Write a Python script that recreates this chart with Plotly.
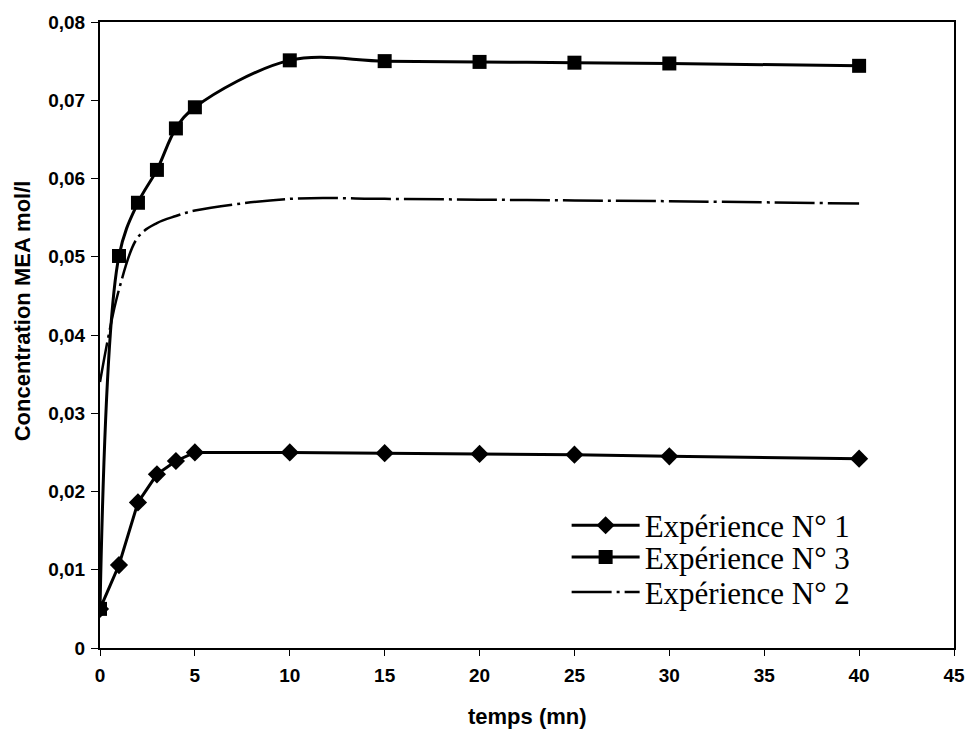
import plotly.graph_objects as go

# ---- data ----
t_main = [0, 1, 2, 3, 4, 5, 10, 15, 20, 25, 30, 40]
exp1 = [0.0050, 0.0106, 0.0186, 0.0222, 0.0239, 0.0250, 0.0250, 0.0249, 0.0248, 0.0247, 0.0245, 0.0242]
exp3 = [0.0050, 0.0501, 0.0569, 0.0611, 0.0664, 0.0691, 0.0751, 0.0750, 0.0749, 0.0748, 0.0747, 0.0744]
t_exp2 = [0, 1, 2, 3, 4, 5, 10, 15, 20, 25, 30, 40]
exp2 = [0.0340, 0.0458, 0.0525, 0.0543, 0.0552, 0.0559, 0.0574, 0.0574, 0.0573, 0.0572, 0.0571, 0.0568]

x_ticks = [0, 5, 10, 15, 20, 25, 30, 35, 40, 45]
y_ticks = [0, 0.01, 0.02, 0.03, 0.04, 0.05, 0.06, 0.07, 0.08]
y_ticklabels = ["0", "0,01", "0,02", "0,03", "0,04", "0,05", "0,06", "0,07", "0,08"]

fig = go.Figure()
fig.add_trace(go.Scatter(
    x=t_main, y=exp1, name="Expérience N° 1", mode="lines+markers", legend="legend",
    line=dict(color="black", width=3),
    marker=dict(symbol="diamond", size=14, color="black"),
))
fig.add_trace(go.Scatter(
    x=t_main, y=exp3, name="Expérience N° 3", mode="lines+markers", legend="legend2",
    line=dict(color="black", width=3, shape="spline", smoothing=1),
    marker=dict(symbol="square", size=14, color="black"),
))
fig.add_trace(go.Scatter(
    x=t_exp2, y=exp2, name="Expérience N° 2", mode="lines", legend="legend3",
    line=dict(color="black", width=2.5, shape="spline", smoothing=1,
              dash="40px,5px,3px,5px"),
))

tick_font = dict(family="Liberation Sans", size=19, color="black", weight="bold")
title_font = dict(family="Liberation Sans", size=22, color="black")
leg_font = dict(family="Liberation Serif", size=31, color="black")

def leg(yc):
    return dict(x=0.5464, y=yc, xanchor="left", yanchor="middle",
                font=leg_font, itemwidth=68, bgcolor="rgba(0,0,0,0)")

fig.update_layout(
    width=977, height=729,
    margin=dict(l=100, r=15, t=19, b=81),
    paper_bgcolor="white", plot_bgcolor="white",
    showlegend=True,
    legend=leg(0.1955),
    legend2=leg(0.1447),
    legend3=leg(0.0890),
    xaxis=dict(
        range=[0, 45], tickvals=x_ticks, showgrid=False, zeroline=False,
        showline=True, linecolor="black", linewidth=2, mirror=True,
        ticks="outside", ticklen=6, tickcolor="black", ticklabelstandoff=3,
        tickfont=tick_font,
    ),
    yaxis=dict(
        range=[0, 0.08], tickvals=y_ticks, ticktext=y_ticklabels,
        showgrid=False, zeroline=False,
        showline=True, linecolor="black", linewidth=2, mirror=True,
        ticks="outside", ticklen=7, tickcolor="black", ticklabelstandoff=2,
        tickfont=tick_font,
    ),
    annotations=[
        dict(text="<b>temps (mn)</b>", xref="paper", yref="paper",
             x=0.5, y=-0.1097, xanchor="center", yanchor="middle",
             showarrow=False, font=title_font),
        dict(text="<b>Concentration MEA mol/l</b>", xref="paper", yref="paper",
             x=-0.0905, y=0.539, xanchor="center", yanchor="middle",
             textangle=-90, showarrow=False, font=title_font),
    ],
)

fig.write_html("out.html")
